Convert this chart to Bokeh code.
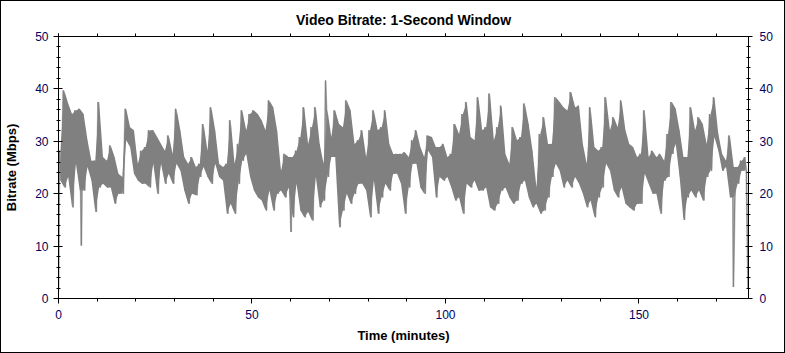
from bokeh.plotting import figure
from bokeh.models import LinearAxis, FixedTicker, Range1d
from bokeh.embed import file_html
from bokeh.resources import INLINE

# Per-minute envelope of the 1-second bitrate (Mbps)
minute_hi = [
    28.2, 39.7, 37.2, 35.2, 35.9, 36.2, 35.2, 30.2, 26.3, 26.3,
    37.5, 27.0, 26.3, 29.2, 27.0, 23.8, 23.2, 36.2, 32.7, 32.1,
    25.7, 28.2, 28.9, 32.1, 32.1, 30.8, 29.5, 28.2, 31.1, 27.6,
    36.2, 32.1, 27.0, 25.7, 27.0, 25.1, 25.7, 33.3, 28.2, 36.5,
    32.1, 25.7, 25.1, 25.7, 34.0, 25.7, 29.5, 35.9, 32.1, 35.2,
    35.9, 35.2, 34.0, 32.1, 37.8, 36.5, 32.1, 24.4, 27.6, 27.0,
    27.0, 28.2, 30.8, 36.5, 29.5, 32.7, 36.5, 29.5, 25.7, 36.0,
    30.8, 35.9, 33.3, 32.7, 37.8, 35.9, 29.5, 30.2, 32.1, 27.0,
    32.1, 35.9, 32.1, 32.7, 35.9, 29.5, 27.6, 27.6, 27.6, 27.9,
    27.0, 30.2, 32.1, 28.9, 27.0, 31.1, 30.8, 28.9, 28.9, 29.5,
    27.0, 27.6, 33.3, 31.4, 35.2, 37.5, 30.8, 30.2, 38.4, 32.1,
    32.7, 39.1, 30.2, 32.7, 36.8, 27.6, 25.7, 32.7, 30.2, 30.8,
    37.2, 33.3, 28.2, 21.2, 31.4, 34.6, 29.5, 29.5, 38.4, 37.5,
    36.5, 35.9, 39.4, 36.5, 36.8, 29.5, 25.7, 36.5, 28.9, 28.2,
    28.9, 38.4, 32.1, 34.6, 32.7, 37.8, 32.1, 29.5, 28.9, 27.0,
    27.6, 35.9, 27.0, 28.2, 27.0, 27.6, 26.3, 31.4, 37.5, 36.2,
    32.1, 27.0, 27.0, 36.5, 32.1, 34.6, 33.3, 29.5, 35.2, 38.4,
    31.4, 27.6, 26.3, 31.1, 25.1, 25.1, 26.3, 27.0,
]
minute_lo = [
    22.5, 21.2, 23.2, 17.4, 25.7, 20.6, 20.6, 25.1, 22.5, 16.5,
    21.2, 21.9, 21.2, 21.2, 18.1, 20.0, 20.0, 30.2, 28.9, 23.8,
    22.5, 21.9, 21.9, 21.2, 25.7, 20.0, 25.7, 21.9, 23.8, 21.9,
    25.7, 24.4, 20.6, 18.1, 20.0, 19.7, 23.2, 25.1, 23.2, 21.9,
    25.7, 23.2, 22.5, 16.2, 18.1, 16.2, 21.9, 26.3, 27.6, 23.2,
    20.6, 19.3, 18.7, 16.8, 20.6, 16.8, 20.0, 20.6, 19.3, 21.2,
    15.5, 21.9, 16.8, 15.5, 16.5, 14.9, 23.2, 17.4, 18.7, 23.2,
    27.0, 27.0, 13.6, 16.8, 20.0, 18.1, 20.0, 21.9, 21.9, 20.6,
    15.5, 22.5, 16.2, 19.3, 21.9, 20.6, 23.8, 23.8, 21.9, 16.2,
    21.2, 25.7, 25.7, 21.2, 20.0, 28.2, 27.0, 19.3, 23.2, 22.5,
    23.2, 21.2, 18.7, 19.3, 16.2, 21.9, 21.2, 22.5, 20.6, 20.6,
    21.2, 17.4, 16.8, 18.1, 20.6, 21.2, 19.3, 18.1, 18.7, 21.9,
    22.5, 19.3, 17.4, 18.1, 16.2, 16.8, 19.3, 23.2, 25.7, 24.4,
    21.2, 22.5, 21.2, 23.2, 21.9, 20.0, 17.4, 18.7, 15.5, 19.3,
    21.2, 25.7, 24.4, 20.6, 19.3, 21.2, 18.1, 17.4, 16.8, 18.1,
    18.1, 23.8, 21.9, 20.0, 20.0, 16.2, 22.5, 23.2, 27.6, 29.5,
    23.2, 15.0, 19.3, 20.6, 19.3, 20.6, 18.7, 23.2, 24.4, 30.8,
    28.2, 24.4, 25.1, 19.3, 19.3, 21.9, 24.4, 24.4,
]
# isolated one-second spikes (minute, Mbps)
spike_min = [0.0, 5.9, 60.1, 69.0, 174.4, 178.2]
spike_val = [1.5, 10.1, 12.7, 41.6, 2.2, 1.9]
x_max = 178.3

x_major = [0, 50, 100, 150]
x_minor = list(range(0, 180, 10))
y_major = [0, 10, 20, 30, 40, 50]
y_minor = list(range(0, 51, 2))

title_text = "Video Bitrate: 1-Second Window"
x_label = "Time (minutes)"
y_label = "Bitrate (Mbps)"

# zig-zag trace through the per-minute extremes, with the spikes merged in
pts = []
for m, (h, l) in enumerate(zip(minute_hi, minute_lo)):
    pts.append((m + 0.25, h))
    pts.append((m + 0.75, l))
pts += list(zip(spike_min, spike_val))
pts.sort()
xs = [a for a, _ in pts]
ys = [b for _, b in pts]
mid = [m + 0.5 for m in range(len(minute_hi))]

FONT = "Liberation Sans"
TICK_COLOR = "#000060"
GRAY = "#808080"
LIGHT = "#c4c4c4"

p = figure(width=785, height=353, output_backend="svg", toolbar_location=None,
           x_range=Range1d(0, x_max), y_range=Range1d(0, 50),
           min_border_left=58, min_border_right=37, min_border_top=36,
           min_border_bottom=55, x_axis_location=None, y_axis_location=None)
p.styles = {"box-shadow": "inset 0 0 0 1px #000000", "background-color": "white",
            "outline": "1px solid #000000", "outline-offset": "-1px"}
p.xgrid.visible = False
p.ygrid.visible = False
p.outline_line_color = "black"
p.background_fill_color = "white"
p.border_fill_color = None

p.title.text = title_text
p.title.align = "center"
p.title.text_font = FONT
p.title.text_font_size = "14px"
p.title.text_font_style = "bold"
p.title.text_color = "black"
p.title.standoff = 12

# light fringe, then the dense per-minute band, then the one-second trace
p.line(xs, ys, line_color=LIGHT, line_width=2)
p.varea(x=mid, y1=minute_lo, y2=minute_hi, fill_color=GRAY)
p.line(xs, ys, line_color=GRAY, line_width=1)


def style_axis(ax):
    ax.axis_line_color = "black"
    ax.major_tick_line_color = "black"
    ax.minor_tick_line_color = "black"
    ax.major_label_text_font = FONT
    ax.major_label_text_font_size = "12px"
    ax.major_label_text_color = TICK_COLOR
    ax.axis_label_text_font = FONT
    ax.axis_label_text_font_size = "13px"
    ax.axis_label_text_font_style = "bold"
    ax.axis_label_text_color = "black"


xb = LinearAxis(ticker=FixedTicker(ticks=x_major, minor_ticks=x_minor), axis_label=x_label)
style_axis(xb)
xb.major_tick_out = 5
xb.major_tick_in = 0
xb.minor_tick_out = 3
xb.minor_tick_in = 0
xb.major_label_standoff = 6
xb.axis_label_standoff = 6
p.add_layout(xb, "below")

xt = LinearAxis(ticker=FixedTicker(ticks=x_major, minor_ticks=x_minor))
style_axis(xt)
xt.major_tick_out = 3
xt.major_tick_in = 0
xt.minor_tick_out = 3
xt.minor_tick_in = 0
xt.major_label_text_font_size = "1px"
xt.major_label_text_alpha = 0
xt.major_label_standoff = 0
p.add_layout(xt, "above")

yl = LinearAxis(ticker=FixedTicker(ticks=y_major, minor_ticks=y_minor), axis_label=y_label)
style_axis(yl)
yl.major_tick_out = 5
yl.major_tick_in = 4
yl.minor_tick_out = 2
yl.minor_tick_in = 2
yl.major_label_standoff = 5
yl.axis_label_standoff = 13
p.add_layout(yl, "left")

yr = LinearAxis(ticker=FixedTicker(ticks=y_major, minor_ticks=y_minor))
style_axis(yr)
yr.major_tick_out = 4
yr.major_tick_in = 3
yr.minor_tick_out = 2
yr.minor_tick_in = 2
yr.major_label_standoff = 7
p.add_layout(yr, "right")

open("out.html", "w").write(file_html(p, INLINE))
